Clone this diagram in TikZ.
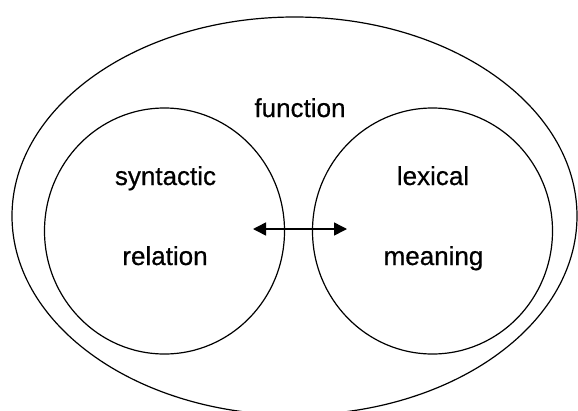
\documentclass[tikz,border=0pt]{standalone}
\usepackage{fontspec}
\setmainfont{Liberation Sans}
\newfontfamily\lblfont[BoldFont={Liberation Sans},BoldFeatures={FakeBold=0.6}]{Liberation Sans}
\usetikzlibrary{shapes.geometric,arrows.meta}
\begin{document}
\begin{tikzpicture}[x=1pt,y=-1pt,
  ring/.style={draw=black,line width=1.2pt,ellipse,inner sep=0pt},
  lbl/.style={anchor=base,inner sep=0pt,font=\lblfont\bfseries\fontsize{26}{30}\selectfont},
  link/.style={line width=1.5pt,{Triangle[length=13pt,width=13pt]}-{Triangle[length=13pt,width=13pt]}}]
\useasboundingbox (0,0) rectangle (578,410);
\begin{scope}
\clip (0,0) rectangle (578,410);
\node[ring,minimum width=565pt,minimum height=398pt] (outer) at (294.5,216) {};
\end{scope}
\node[ring,minimum width=240pt,minimum height=246pt] (L) at (164.5,231) {};
\node[ring,minimum width=240pt,minimum height=246pt] (R) at (432.5,231) {};
\node[lbl] (fn) at (300,117) {function};
\node[lbl] (syn) at (165.5,185) {syntactic};
\node[lbl] (rel) at (165,265) {relation};
\node[lbl] (lex) at (433,185) {lexical};
\node[lbl] (mea) at (433.5,265) {meaning};
\coordinate (a1) at (253,229);
\coordinate (a2) at (347,229);
\draw[link] (a1) -- (a2);
\end{tikzpicture}
\end{document}
